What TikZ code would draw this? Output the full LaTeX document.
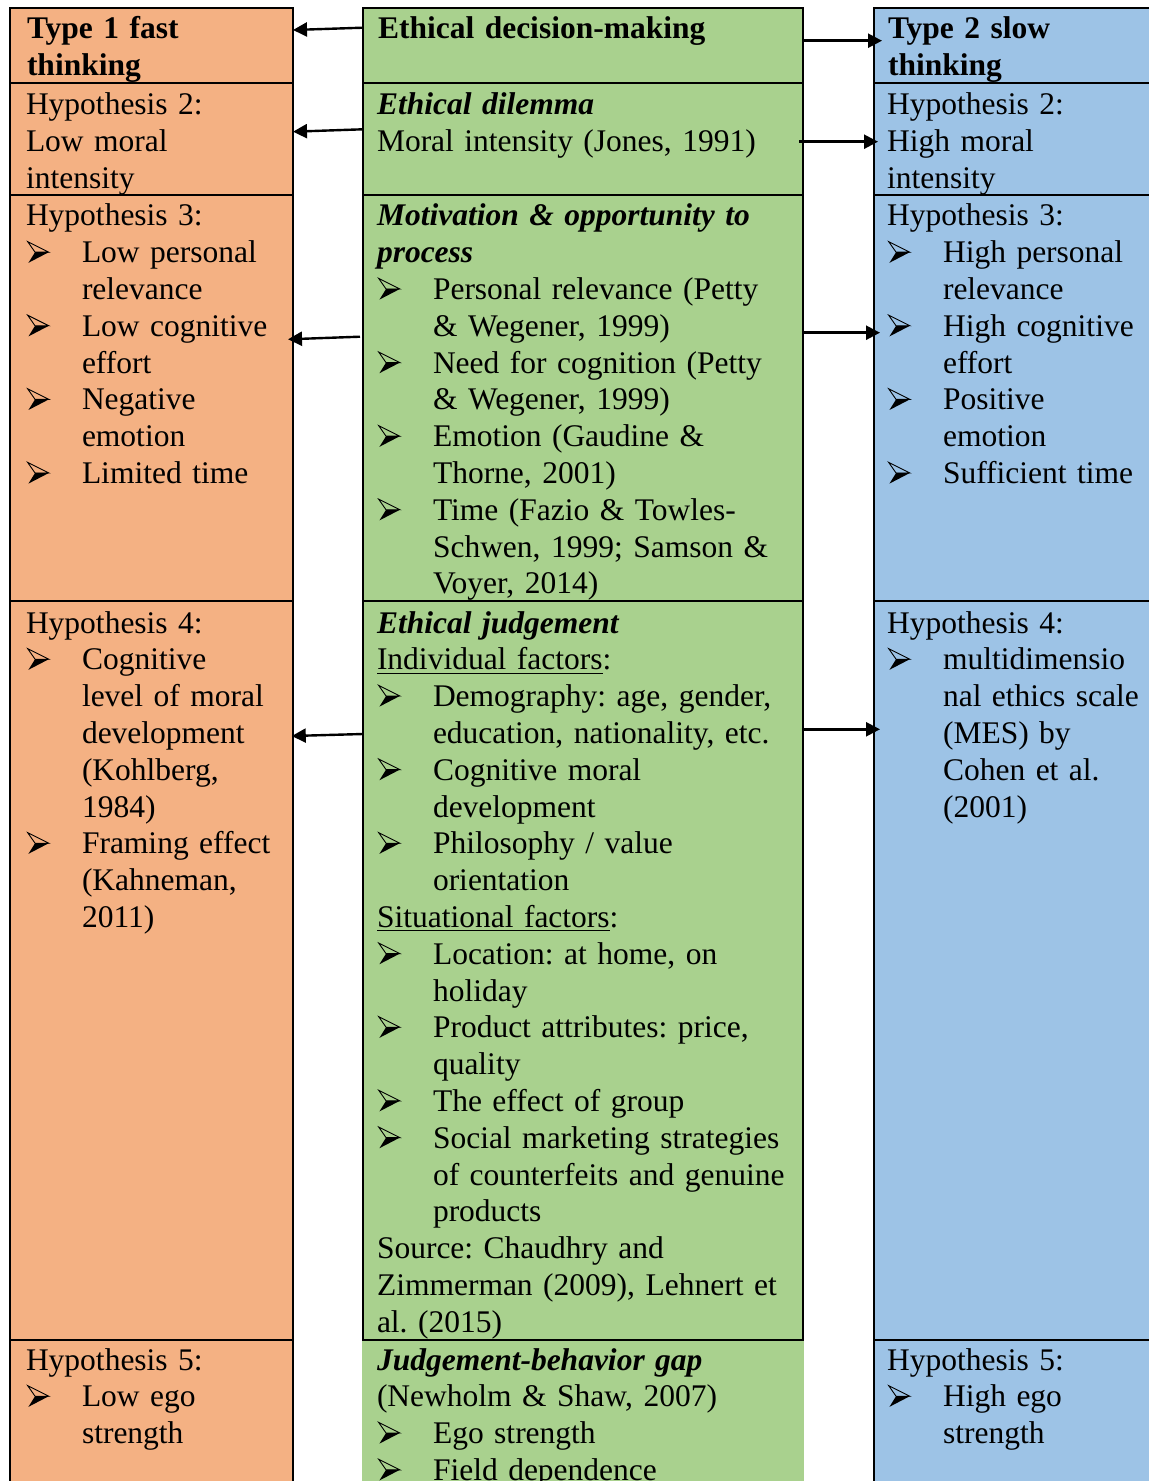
\documentclass[tikz,border=0pt]{standalone}
\usepackage{fontspec}
\setmainfont{Liberation Serif}
\usetikzlibrary{arrows.meta,fit}

\definecolor{fastfill}{HTML}{F4B183}
\definecolor{midfill}{HTML}{A9D18E}
\definecolor{slowfill}{HTML}{9DC3E6}

% list marker (three-d arrowhead: outlined upper half, solid lower half)
\newcommand\bul{\hspace*{0.6pt}\makebox[27.4pt][l]{\tikz[x=1pt,y=1pt,baseline=0pt,line width=0.45pt,line join=miter]{%
  \draw (0,10.6)--(10.6,5.3)--(3.7,5.3)--cycle;
  \fill (3.7,5.3)--(10.6,5.3)--(0.4,0)--cycle;}}}
% hanging indent for continuation lines
\newcommand\cont{\hspace*{28pt}}

\tikzset{
  cell/.style={draw, line width=1.3pt, inner sep=0pt, outer sep=0pt},
  opencell/.style={inner sep=0pt, outer sep=0pt},
  txt/.style={anchor=base west, inner sep=0pt, outer sep=0pt, text width=270pt,
    align=left, font=\fontsize{15.75pt}{18.4pt}\selectfont\frenchspacing},
  link/.style={line width=1.2pt, -{Triangle[length=7pt,width=7pt]}},
}

\begin{document}
\begin{tikzpicture}[x=0.5pt,y=-0.5pt]
\useasboundingbox (0,0) rectangle (1149,1481);
\clip (0,0) rectangle (1149,1481);

% ---- left column: type 1 fast thinking
\node[cell, fill=fastfill, fit={(10,8) (293,83)}] (o1) {};
\node[cell, fill=fastfill, fit={(10,83) (293,195)}] (o2) {};
\node[cell, fill=fastfill, fit={(10,195) (293,601)}] (o3) {};
\node[cell, fill=fastfill, fit={(10,601) (293,1340)}] (o4) {};
\node[cell, fill=fastfill, fit={(10,1340) (293,1520)}] (o5) {};

% ---- middle column: ethical decision-making
\node[opencell, fill=midfill, fit={(362,1340) (804,1520)}] (g5) {};
\node[cell, fill=midfill, fit={(363,8) (803,83)}] (g1) {};
\node[cell, fill=midfill, fit={(363,83) (803,195)}] (g2) {};
\node[cell, fill=midfill, fit={(363,195) (803,601)}] (g3) {};
\node[cell, fill=midfill, fit={(363,601) (803,1340)}] (g4) {};

% ---- right column: type 2 slow thinking
\node[cell, fill=slowfill, fit={(874,8) (1170,83)}] (s1) {};
\node[cell, fill=slowfill, fit={(874,83) (1170,195)}] (s2) {};
\node[cell, fill=slowfill, fit={(874,195) (1170,601)}] (s3) {};
\node[cell, fill=slowfill, fit={(874,601) (1170,1340)}] (s4) {};
\node[cell, fill=slowfill, fit={(874,1340) (1170,1520)}] (s5) {};

% ---- texts, left column
\node[txt] (to1) at (27,39) {\textbf{Type 1 fast}\\\textbf{thinking}};
\node[txt] (to2) at (26,115) {Hypothesis 2:\\Low moral\\intensity};
\node[txt] (to3) at (26,226) {Hypothesis 3:\\\bul Low personal\\\cont relevance\\\bul Low cognitive\\\cont effort\\\bul Negative\\\cont emotion\\\bul Limited time};
\node[txt] (to4) at (26,633) {Hypothesis 4:\\\bul Cognitive\\\cont level of moral\\\cont development\\\cont (Kohlberg,\\\cont 1984)\\\bul Framing effect\\\cont (Kahneman,\\\cont 2011)};
\node[txt] (to5) at (26,1370) {Hypothesis 5:\\\bul Low ego\\\cont strength};

% ---- texts, middle column
\node[txt] (tg1) at (378,39) {\textbf{Ethical decision-making}};
\node[txt] (tg2) at (377,115) {\textbf{\textit{Ethical dilemma}}\\Moral intensity (Jones, 1991)};
\node[txt] (tg3) at (377,226) {\textbf{\textit{Motivation \& opportunity to}}\\\textbf{\textit{process}}\\\bul Personal relevance (Petty\\\cont \& Wegener, 1999)\\\bul Need for cognition (Petty\\\cont \& Wegener, 1999)\\\bul Emotion (Gaudine \&\\\cont Thorne, 2001)\\\bul Time (Fazio \& Towles-\\\cont Schwen, 1999; Samson \&\\\cont Voyer, 2014)};
\node[txt] (tg4) at (377,633) {\textbf{\textit{Ethical judgement}}\\\underline{Individual factors}:\\\bul Demography: age, gender,\\\cont education, nationality, etc.\\\bul Cognitive moral\\\cont development\\\bul Philosophy / value\\\cont orientation\\\underline{Situational factors}:\\\bul Location: at home, on\\\cont holiday\\\bul Product attributes: price,\\\cont quality\\\bul The effect of group\\\bul Social marketing strategies\\\cont of counterfeits and genuine\\\cont products\\Source: Chaudhry and\\Zimmerman (2009), Lehnert et\\al. (2015)};
\node[txt] (tg5) at (377,1370) {\textbf{\textit{Judgement-behavior gap}}\\(Newholm \& Shaw, 2007)\\\bul Ego strength\\\bul Field dependence};

% ---- texts, right column
\node[txt] (ts1) at (888,39) {\textbf{Type 2 slow}\\\textbf{thinking}};
\node[txt] (ts2) at (887,115) {Hypothesis 2:\\High moral\\intensity};
\node[txt] (ts3) at (887,226) {Hypothesis 3:\\\bul High personal\\\cont relevance\\\bul High cognitive\\\cont effort\\\bul Positive\\\cont emotion\\\bul Sufficient time};
\node[txt] (ts4) at (887,633) {Hypothesis 4:\\\bul multidimensio\\\cont nal ethics scale\\\cont (MES) by\\\cont Cohen et al.\\\cont (2001)};
\node[txt] (ts5) at (887,1370) {Hypothesis 5:\\\bul High ego\\\cont strength};

% ---- connectors from the middle column to both sides
\draw[link] ([yshift=8.9pt]g1.west) -- ([yshift=7.75pt]o1.east);
\draw[link] ([yshift=2.4pt]g1.east) -- ([xshift=4pt,yshift=2.4pt]s1.west);
\draw[link] ([yshift=4.85pt]g2.west) -- ([yshift=3.65pt]o2.east);
\draw[link] ([xshift=-2pt,yshift=-1.35pt]g2.east) -- ([xshift=2pt,yshift=-1.35pt]s2.west);
\draw[link] ([xshift=-1.5pt,yshift=30.65pt]g3.west) -- ([xshift=-2.5pt,yshift=29.35pt]o3.east);
\draw[link] ([xshift=-0.6pt,yshift=32.65pt]g3.east) -- ([xshift=3pt,yshift=32.65pt]s3.west);
\draw[link] ([yshift=118.25pt]g4.west) -- ([xshift=-0.6pt,yshift=117.25pt]o4.east);
\draw[link] ([xshift=-0.6pt,yshift=120.6pt]g4.east) -- ([xshift=3pt,yshift=120.6pt]s4.west);
\end{tikzpicture}
\end{document}
